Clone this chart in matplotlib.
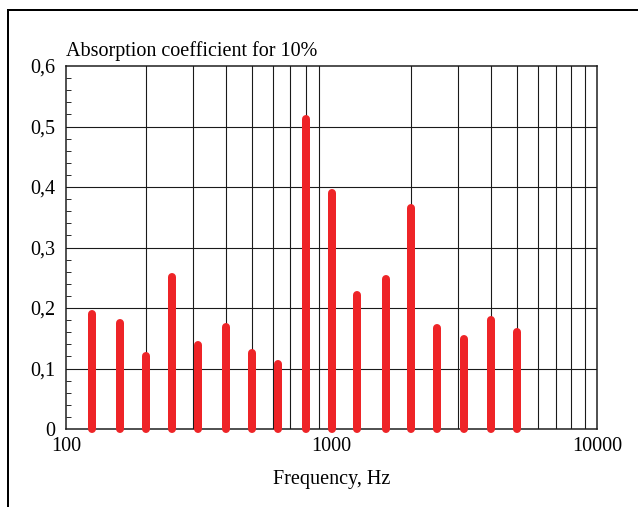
import numpy as np
import matplotlib
matplotlib.use("Agg")
import matplotlib.pyplot as plt
from matplotlib.ticker import FixedLocator, MultipleLocator, NullFormatter
from matplotlib.lines import Line2D

plt.rcParams['font.family'] = ['Liberation Serif', 'DejaVu Serif']

# One-third octave band centre frequencies and absorption coefficients
freqs = [125, 160, 200, 250, 315, 400, 500, 630, 800, 1000, 1250, 1600,
         2000, 2500, 3150, 4000, 5000]
alpha = [0.19, 0.175, 0.12, 0.252, 0.139, 0.168, 0.125, 0.107, 0.512, 0.390,
         0.222, 0.248, 0.365, 0.167, 0.149, 0.180, 0.160]

x_ticks = [100, 1000, 10000]
x_tick_labels = ["100", "1000", "10000"]
y_ticks = [0, 0.1, 0.2, 0.3, 0.4, 0.5, 0.6]
y_tick_labels = ["0", "0,1", "0,2", "0,3", "0,4", "0,5", "0,6"]

W, H = 638, 507
PX = 0.72  # points per pixel at 100 dpi
fig = plt.figure(figsize=(W / 100, H / 100), dpi=100)
ax = fig.add_axes([66 / W, 1 - 429 / H, (597 - 66) / W, (429 - 66) / H])

ax.set_xscale('log')
ax.set_xlim(100, 10000)
ax.set_ylim(0, 0.6)

# vertical grid at every 100/1000 decade step, horizontal every 0.1
grid_x = [m * 10 ** e for e in (2, 3) for m in range(2, 10)]
for gx in grid_x:
    ax.axvline(gx, color='#1a1a1a', lw=1.1 * PX, zorder=1)
for gy in y_ticks[1:-1]:
    ax.axhline(gy, color='#1a1a1a', lw=1.1 * PX, zorder=1)

ax.xaxis.set_major_locator(FixedLocator(x_ticks))
ax.xaxis.set_minor_locator(FixedLocator([]))
ax.set_xticklabels(x_tick_labels)
ax.yaxis.set_major_locator(FixedLocator(y_ticks))
ax.set_yticklabels(y_tick_labels)
ax.yaxis.set_minor_locator(MultipleLocator(0.02))
ax.yaxis.set_minor_formatter(NullFormatter())

ax.tick_params(axis='x', which='both', length=0, labelsize=14.5, pad=6)
ax.tick_params(axis='y', which='major', length=0, labelsize=14.5, pad=8)
ax.tick_params(axis='y', which='minor', direction='in', length=5 * PX,
               width=1 * PX, color='#303030')

for s in ax.spines.values():
    s.set_color('#1a1a1a')
    s.set_linewidth(1.5 * PX)
    s.set_zorder(2)

# absorption bars as thick round-capped stems
for f, a in zip(freqs, alpha):
    ax.plot([f, f], [0, a], color='#ee2427', lw=8 * PX,
            solid_capstyle='round', clip_on=False, zorder=3)

ax.set_xlabel("Frequency, Hz", fontsize=14.5, labelpad=10)
fig.text(66 / W, 1 - 56 / H, "Absorption coefficient for 10%", fontsize=14.5,
         ha='left', va='baseline')

# outer frame (top and left edges)
fig.add_artist(Line2D([8 / W, 1.0], [1 - 10 / H, 1 - 10 / H], color='black',
                      lw=2 * PX, transform=fig.transFigure))
fig.add_artist(Line2D([8 / W, 8 / W], [0.0, 1 - 10 / H], color='black',
                      lw=2 * PX, transform=fig.transFigure))

fig.savefig("out.png", dpi=100)
